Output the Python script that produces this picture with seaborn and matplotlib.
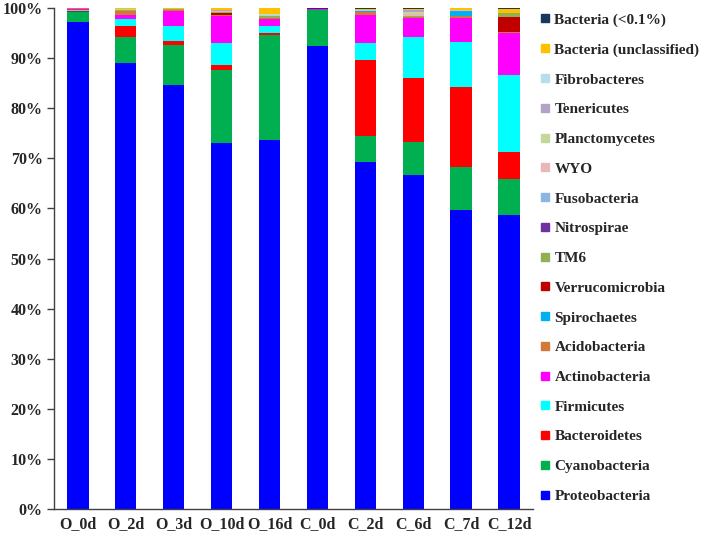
import numpy as np
import pandas as pd
import matplotlib
matplotlib.use("Agg")
import matplotlib.pyplot as plt
from matplotlib.lines import Line2D
import seaborn as sns

samples = ["O_0d", "O_2d", "O_3d", "O_10d", "O_16d", "C_0d", "C_2d", "C_6d", "C_7d", "C_12d"]

# bottom -> top stacking order
phyla = ["Proteobacteria", "Cyanobacteria", "Bacteroidetes", "Firmicutes", "Actinobacteria",
         "Acidobacteria", "Spirochaetes", "Verrucomicrobia", "TM6", "Nitrospirae",
         "Fusobacteria", "WYO", "Planctomycetes", "Tenericutes", "Fibrobacteres",
         "Bacteria (unclassified)", "Bacteria (<0.1%)"]

colors = ["#0000FF", "#00B050", "#FF0000", "#00FFFF", "#FF00FF",
          "#D2793A", "#00B0F0", "#C00000", "#92B050", "#7030A0",
          "#8EB4E3", "#E6B8B7", "#C4D79B", "#B3A2C7", "#B7DEE8",
          "#FFC000", "#17375E"]

proteobacteria  = [97.2, 89.0, 84.7, 73.0, 73.6, 92.5, 69.2, 66.6, 59.6, 58.6]
cyanobacteria   = [2.1, 5.3, 7.9, 14.6, 21.0, 7.1, 5.3, 6.6, 8.6, 7.3]
bacteroidetes   = [0.1, 2.2, 0.9, 1.0, 0.4, 0.05, 15.1, 12.8, 16.1, 5.4]
firmicutes      = [0.3, 1.3, 3.0, 4.5, 1.5, 0.05, 3.5, 8.2, 9.0, 15.4]
actinobacteria  = [0.2, 0.9, 3.0, 5.4, 1.4, 0.05, 5.6, 3.9, 4.8, 8.4]
acidobacteria   = [0.05, 0.65, 0.1, 0.05, 0.1, 0.05, 0.6, 0.1, 0.3, 0.05]
spirochaetes    = [0.02, 0.1, 0.05, 0.05, 0.05, 0.0, 0.05, 0.05, 1.0, 0.05]
verrucomicrobia = [0.02, 0.05, 0.05, 0.5, 0.05, 0.0, 0.05, 0.05, 0.05, 3.0]
tm6             = [0.01, 0.1, 0.05, 0.05, 0.3, 0.0, 0.05, 0.05, 0.05, 0.8]
nitrospirae     = [0.0, 0.05, 0.0, 0.1, 0.0, 0.0, 0.0, 0.0, 0.0, 0.0]
fusobacteria    = [0.0, 0.0, 0.0, 0.0, 0.05, 0.0, 0.0, 0.0, 0.0, 0.0]
wyo             = [0.0, 0.05, 0.05, 0.1, 0.0, 0.0, 0.1, 0.4, 0.05, 0.0]
planctomycetes  = [0.0, 0.1, 0.05, 0.0, 0.2, 0.0, 0.1, 0.5, 0.05, 0.05]
tenericutes     = [0.0, 0.05, 0.05, 0.3, 0.05, 0.0, 0.05, 0.4, 0.05, 0.0]
fibrobacteres   = [0.0, 0.0, 0.0, 0.0, 0.05, 0.0, 0.0, 0.05, 0.0, 0.0]
unclassified    = [0.0, 0.1, 0.1, 0.3, 1.3, 0.0, 0.2, 0.05, 0.3, 0.7]
lt01            = [0.0, 0.05, 0.05, 0.1, 0.05, 0.2, 0.05, 0.3, 0.1, 0.3]

series = [proteobacteria, cyanobacteria, bacteroidetes, firmicutes, actinobacteria,
          acidobacteria, spirochaetes, verrucomicrobia, tm6, nitrospirae,
          fusobacteria, wyo, planctomycetes, tenericutes, fibrobacteres,
          unclassified, lt01]

df = pd.DataFrame(np.array(series).T, columns=phyla)
df.insert(0, "sample", samples)
cum = df[phyla].cumsum(axis=1)

sns.set_style("white")
plt.rcParams["font.family"] = ["Liberation Serif", "DejaVu Serif"]
plt.rcParams["font.weight"] = "bold"

fig = plt.figure(figsize=(7.08, 5.38), dpi=100)
ax = fig.add_axes([0.076, 0.054, 0.677, 0.931])

# draw from top layer down (cumulative heights) so lower layers overlay
for name, col in zip(reversed(phyla), reversed(colors)):
    sns.barplot(x=df["sample"], y=cum[name], color=col, width=0.45,
                saturation=1, ax=ax, linewidth=0, errorbar=None)

ax.set_ylim(0, 100)
ax.set_xlim(-0.5, len(samples) - 0.5)
ax.set_yticks(np.arange(0, 101, 10))
ax.set_yticklabels([f"{v}%" for v in range(0, 101, 10)], fontsize=11.5, fontweight="bold")
ax.set_xticks(range(len(samples)))
ax.set_xticklabels(samples, fontsize=11.5, fontweight="bold")
ax.set_xticks(np.arange(-0.5, len(samples)), minor=True)
ax.tick_params(axis="x", which="major", length=0, pad=5)
ax.tick_params(axis="x", which="minor", length=5, width=1, direction="out", color="#404040")
ax.tick_params(axis="y", length=5, width=1, direction="out", color="#404040", pad=3, left=True)
ax.set_xlabel("")
ax.set_ylabel("")
for s in ["top", "right"]:
    ax.spines[s].set_visible(False)
for s in ["left", "bottom"]:
    ax.spines[s].set_color("#404040")
    ax.spines[s].set_linewidth(1)

handles = [Line2D([0], [0], marker="s", linestyle="", markersize=6,
                  markerfacecolor=c, markeredgecolor=c) for c in reversed(colors)]
fig.legend(handles, list(reversed(phyla)), loc="upper left",
           bbox_to_anchor=(0.755, 0.987), frameon=False,
           prop={"family": "Liberation Serif", "weight": "bold", "size": 11},
           handlelength=0.6, handletextpad=0.3, labelspacing=1.05, borderaxespad=0)

fig.savefig("out.png", dpi=100)
